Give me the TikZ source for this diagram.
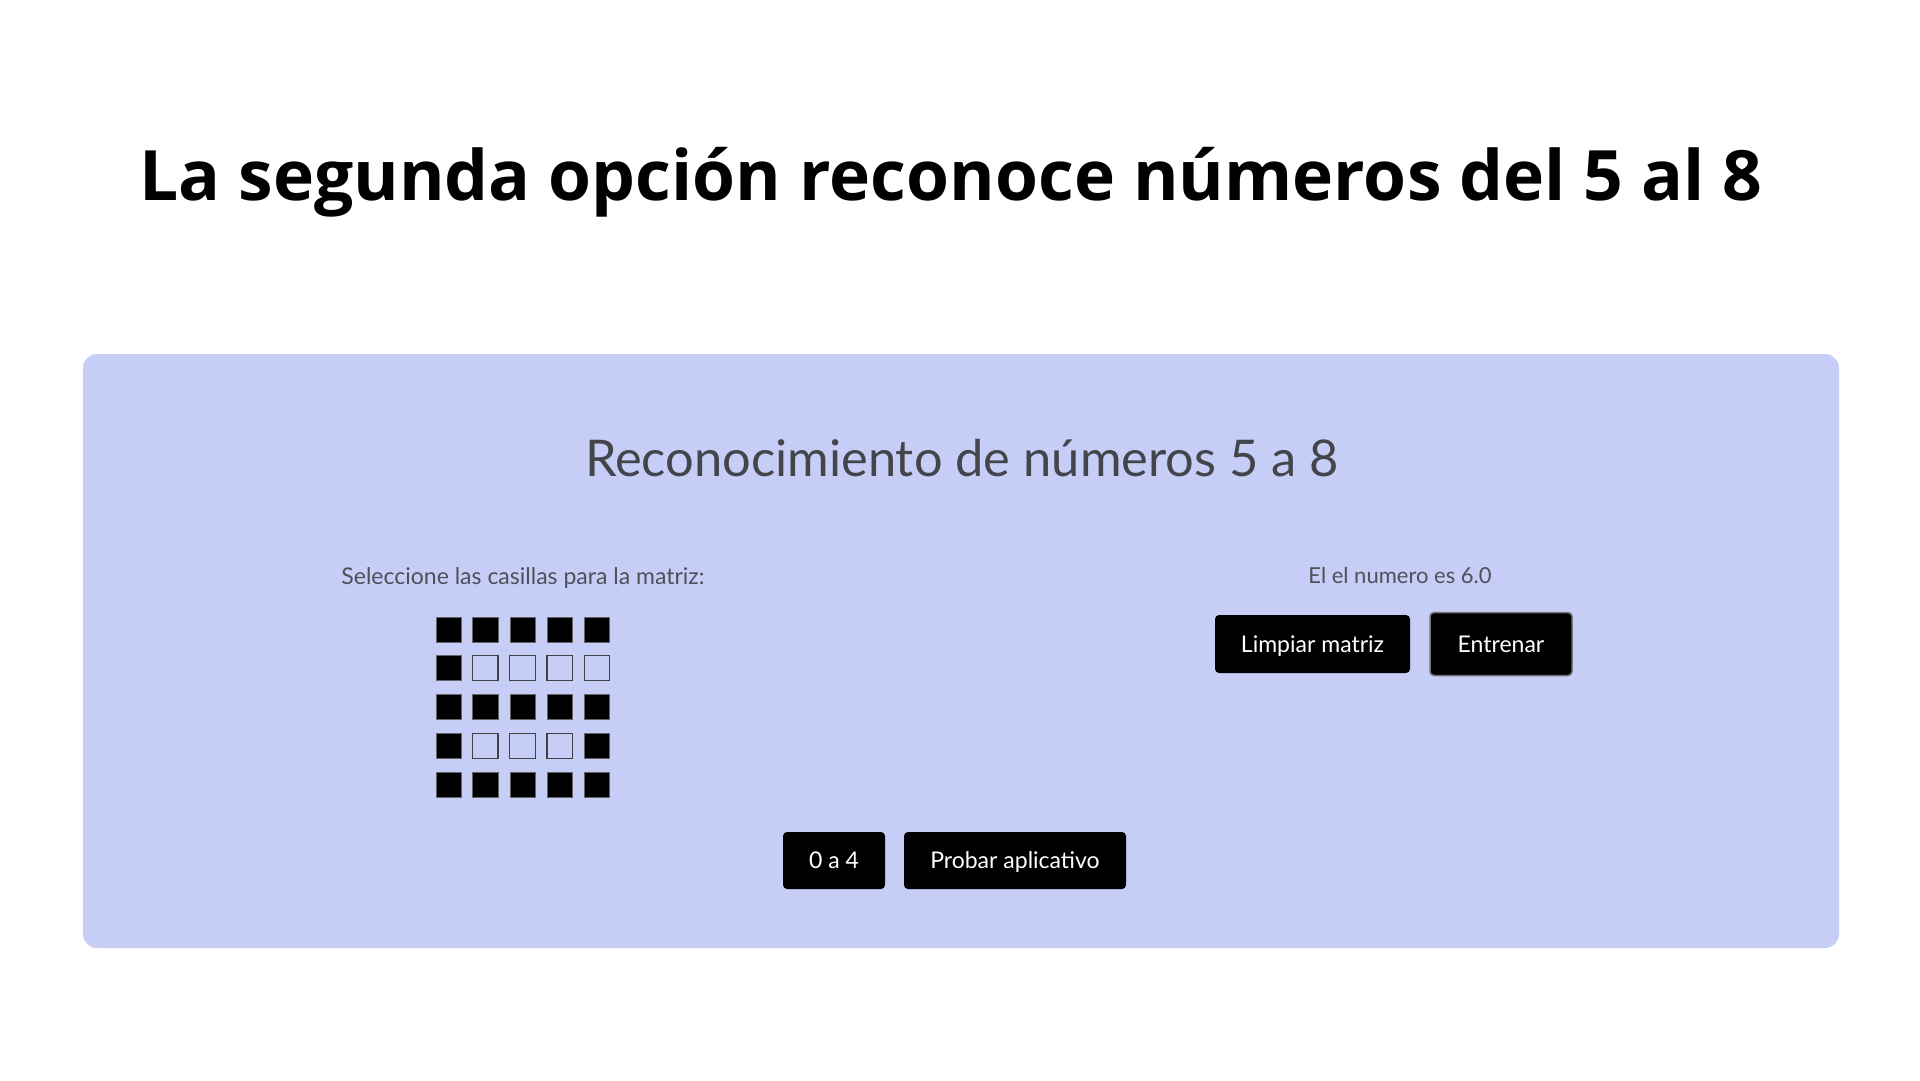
\documentclass[tikz,border=0pt]{standalone}
\usepackage{fontspec}
\setmainfont{Lato}
\newfontfamily\headfont{Open Sans}
\usetikzlibrary{matrix}
\definecolor{panelblue}{RGB}{198,206,247}
\definecolor{labelgray}{RGB}{80,80,88}
\tikzset{
  panel/.style={fill=panelblue, rounded corners=14pt, inner sep=0pt,
    minimum width=1756pt, minimum height=594pt},
  btn/.style={fill=black, text=white, rounded corners=4pt, inner sep=0pt,
    minimum height=58pt, text height=16.5pt, text depth=0pt,
    font=\fontsize{23}{27}\selectfont},
  label/.style={anchor=base, text=labelgray, font=\fontsize{22.5}{27}\selectfont},
  on/.style={fill=black, draw=black!60, line width=0.5pt},
  off/.style={fill=panelblue, draw=black!75, line width=1.2pt},
}

\begin{document}
\begin{tikzpicture}[x=1pt, y=-1pt]
\useasboundingbox (0,0) rectangle (1920,1080);
\fill[white] (0,0) rectangle (1920,1080);

\node[anchor=base, font=\headfont\bfseries\fontsize{69.5}{82}\selectfont] (title) at (951,200)
  {La segunda opción reconoce números del 5 al 8};

\node[panel] (panel) at (961,651) {};

\node[label, text=labelgray!85!black, font=\fontsize{50.6}{60}\selectfont] (heading) at (962,476)
  {Reconocimiento de números 5 a 8};

\node[label, font=\fontsize{23}{27}\selectfont] (pick) at (523,584) {Seleccione las casillas para la matriz:};
\node[label, font=\fontsize{22}{26}\selectfont] (result) at (1400,583) {El el numero es 6.0};

% casillas 5x5
\matrix (grid) [matrix of nodes, anchor=north west, column sep=10.6pt, row sep=13pt,
  nodes={minimum width=25.4pt, minimum height=25pt, inner sep=0pt}]
  at (432,613) {
|[on]|  & |[on]|  & |[on]|  & |[on]|  & |[on]|  \\
|[on]|  & |[off]| & |[off]| & |[off]| & |[off]| \\
|[on]|  & |[on]|  & |[on]|  & |[on]|  & |[on]|  \\
|[on]|  & |[off]| & |[off]| & |[off]| & |[on]|  \\
|[on]|  & |[on]|  & |[on]|  & |[on]|  & |[on]|  \\
};

\node[btn, minimum width=195pt] (clear) at (1312.5,644) {Limpiar matriz};
\node[btn, minimum width=142pt, minimum height=63pt, draw=black!55, line width=1.5pt] (train) at (1501,644) {Entrenar};

\node[btn, minimum width=102pt, minimum height=57pt] (range) at (834,860.5) {0 a 4};
\node[btn, minimum width=222pt, minimum height=57pt] (test) at (1015,860.5) {Probar aplicativo};
\end{tikzpicture}
\end{document}
